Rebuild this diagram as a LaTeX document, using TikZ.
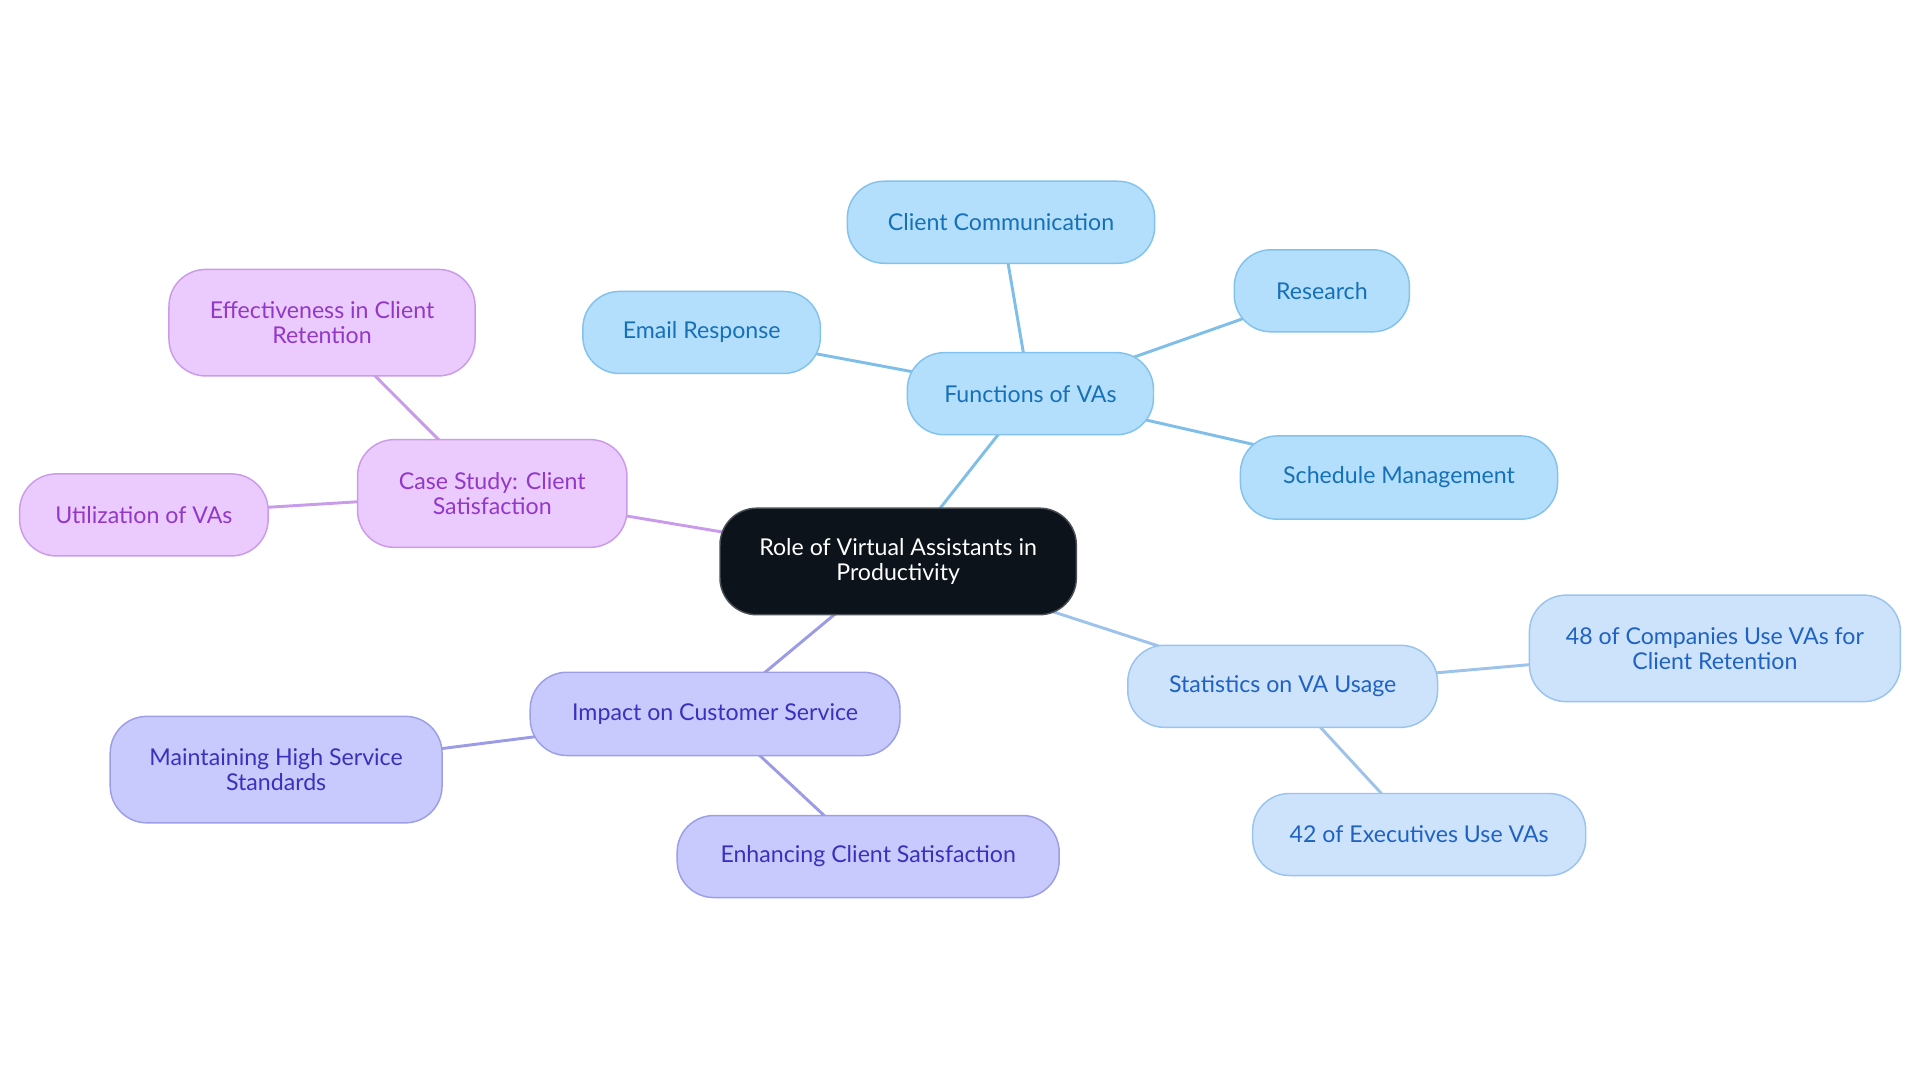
\documentclass[tikz,border=0pt]{standalone}
\usepackage{fontspec}
\setmainfont{Lato}
\usetikzlibrary{backgrounds}
\definecolor{cfill}{HTML}{0C131A}
\definecolor{cdraw}{HTML}{4A4F55}
\definecolor{bfill}{HTML}{B4DFFC}
\definecolor{bdraw}{HTML}{82C2EC}
\definecolor{btext}{HTML}{1670B8}
\definecolor{bedge}{HTML}{7EBEE8}
\definecolor{lfill}{HTML}{CDE3FC}
\definecolor{ldraw}{HTML}{9AC3EE}
\definecolor{ltext}{HTML}{1F62C2}
\definecolor{ledge}{HTML}{9DC3EB}
\definecolor{ifill}{HTML}{C8CAFD}
\definecolor{idraw}{HTML}{9C9EE8}
\definecolor{itext}{HTML}{3A30BE}
\definecolor{iedge}{HTML}{9B9BE6}
\definecolor{pfill}{HTML}{EBCAFD}
\definecolor{pdraw}{HTML}{CA9BEB}
\definecolor{ptext}{HTML}{9238C8}
\definecolor{pedge}{HTML}{C89CEA}
\tikzset{
  x=1pt,y=-1pt,
  box/.style={rounded corners=30pt, line width=1.2pt, align=center, inner sep=0pt,
    font=\fontsize{18.9}{20.5}\selectfont},
  center/.style={box, fill=cfill, draw=cdraw, text=white},
  bbox/.style={box, fill=bfill, draw=bdraw, text=btext},
  lbox/.style={box, fill=lfill, draw=ldraw, text=ltext},
  ibox/.style={box, fill=ifill, draw=idraw, text=itext},
  pbox/.style={box, fill=pfill, draw=pdraw, text=ptext},
  edge/.style={line width=2.4pt},
  sz/.style 2 args={minimum width=#1pt, minimum height=#2pt},
}
\begin{document}
\begin{tikzpicture}
\useasboundingbox (0,0) rectangle (1568,884.5);
\node[center, sz={291}{87}] (root) at (733.5,458.5) {Role of Virtual Assistants in\\Productivity};
\node[bbox, sz={201}{67}] (func) at (841.5,321.5) {Functions of VAs};
\node[bbox, sz={251}{67}] (comm) at (817.5,181.5) {Client Communication};
\node[bbox, sz={143}{67}] (res) at (1079.5,237.5) {Research};
\node[bbox, sz={194}{67}] (email) at (573,271.5) {Email Response};
\node[bbox, sz={259}{68}] (sched) at (1142.5,390) {Schedule Management};
\node[lbox, sz={253}{67}] (stat) at (1047.5,560.5) {Statistics on VA Usage};
\node[lbox, sz={303}{87}] (comp) at (1400.5,529.5) {48 of Companies Use VAs for\\Client Retention};
\node[lbox, sz={272}{67}] (exec) at (1159,681.5) {42 of Executives Use VAs};
\node[ibox, sz={302}{68}] (impact) at (584,583) {Impact on Customer Service};
\node[ibox, sz={271}{87}] (maint) at (225.5,628.5) {Maintaining High Service\\Standards};
\node[ibox, sz={312}{67}] (enh) at (709,699.5) {Enhancing Client Satisfaction};
\node[pbox, sz={220}{88}] (case) at (402,403) {Case Study: Client\\Satisfaction};
\node[pbox, sz={250}{87}] (eff) at (263,263.5) {Effectiveness in Client\\Retention};
\node[pbox, sz={203}{67}] (util) at (117.5,420.5) {Utilization of VAs};
\begin{scope}[on background layer]
\draw[edge, bedge] (root.center) -- (func.center);
\draw[edge, bedge] (func.center) -- (comm.center);
\draw[edge, bedge] (func.center) -- (res.center);
\draw[edge, bedge] (func.center) -- (email.center);
\draw[edge, bedge] (func.center) -- (sched.center);
\draw[edge, ledge] (root.center) -- (stat.center);
\draw[edge, ledge] (stat.center) -- (comp.center);
\draw[edge, ledge] (stat.center) -- (exec.center);
\draw[edge, iedge] (root.center) -- (impact.center);
\draw[edge, iedge] (impact.center) -- (maint.center);
\draw[edge, iedge] (impact.center) -- (enh.center);
\draw[edge, pedge] (root.center) -- (case.center);
\draw[edge, pedge] (case.center) -- (eff.center);
\draw[edge, pedge] (case.center) -- (util.center);
\end{scope}
\end{tikzpicture}
\end{document}
